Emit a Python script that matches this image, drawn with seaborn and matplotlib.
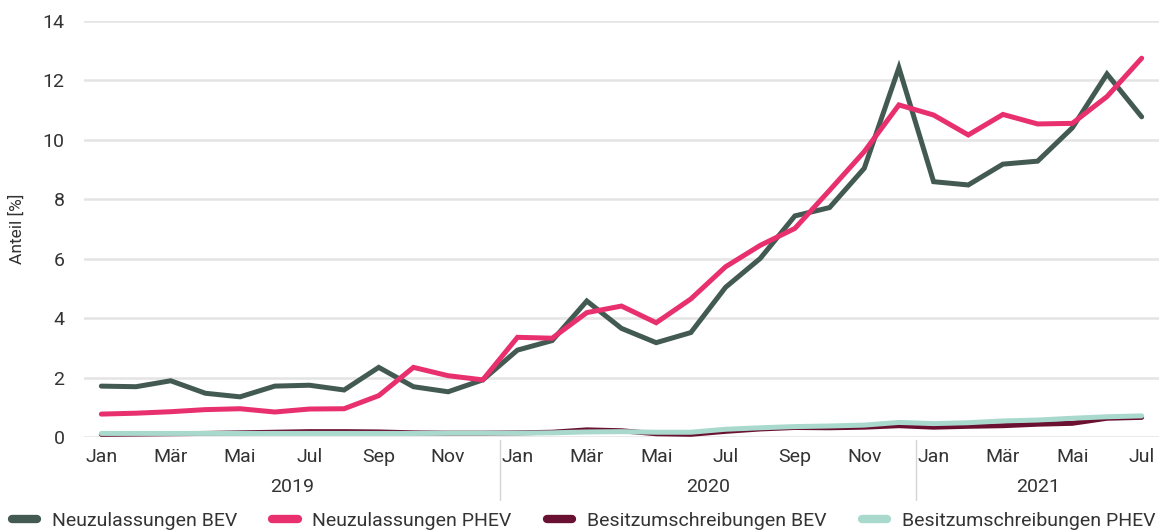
import numpy as np
import pandas as pd
import matplotlib
matplotlib.use("Agg")
import matplotlib.pyplot as plt
import matplotlib.transforms as mtransforms
from matplotlib.lines import Line2D
import seaborn as sns

# ---------------- data ----------------
month_names = ["Jan", "Feb", "Mär", "Apr", "Mai", "Jun", "Jul", "Aug", "Sep", "Okt", "Nov", "Dez"]
years = ["2019", "2020", "2021"]
n_months = 31  # Jan 2019 .. Jul 2021

neu_bev = [1.72, 1.70, 1.90, 1.48, 1.36, 1.72, 1.75, 1.59, 2.35, 1.70, 1.53, 1.93,
           2.93, 3.25, 4.58, 3.66, 3.18, 3.52, 5.04, 6.01, 7.44, 7.72, 9.04, 12.42,
           8.59, 8.48, 9.18, 9.28, 10.40, 12.21, 10.77]
neu_phev = [0.78, 0.81, 0.86, 0.93, 0.96, 0.85, 0.95, 0.96, 1.40, 2.35, 2.07, 1.93,
            3.36, 3.33, 4.19, 4.41, 3.85, 4.65, 5.73, 6.45, 7.02, 8.30, 9.60, 11.17,
            10.83, 10.16, 10.85, 10.53, 10.55, 11.45, 12.74]
bes_bev = [0.10, 0.11, 0.12, 0.13, 0.15, 0.17, 0.19, 0.19, 0.18, 0.15, 0.14, 0.14,
           0.15, 0.17, 0.25, 0.22, 0.12, 0.10, 0.20, 0.28, 0.33, 0.32, 0.34, 0.39,
           0.34, 0.37, 0.39, 0.44, 0.47, 0.64, 0.67]
bes_phev = [0.13, 0.13, 0.13, 0.13, 0.13, 0.13, 0.13, 0.13, 0.13, 0.13, 0.14, 0.14,
            0.14, 0.15, 0.18, 0.19, 0.17, 0.17, 0.27, 0.32, 0.36, 0.38, 0.41, 0.50,
            0.46, 0.49, 0.55, 0.58, 0.64, 0.69, 0.72]

series_names = ["Neuzulassungen BEV", "Neuzulassungen PHEV",
                "Besitzumschreibungen BEV", "Besitzumschreibungen PHEV"]
series_values = [neu_bev, neu_phev, bes_bev, bes_phev]
colors = ["#435a52", "#e8306f", "#6a1030", "#a9d9cd"]

y_ticks = [0, 2, 4, 6, 8, 10, 12, 14]
y_label = "Anteil [%]"

# ---------------- frame ----------------
rows = []
for name, vals in zip(series_names, series_values):
    for i, v in enumerate(vals):
        rows.append({"idx": i, "Anteil": v, "Serie": name})
df = pd.DataFrame(rows)

sns.set_theme(style="white")
plt.rcParams["font.family"] = ["Roboto", "DejaVu Sans"]
text_color = "#333333"

W, H = 1163, 530
fig = plt.figure(figsize=(W / 100, H / 100), dpi=100)
left, right, top, bottom = 84, 1159, 20.7, 437.3
ax = fig.add_axes([left / W, 1 - bottom / H, (right - left) / W, (bottom - top) / H])

sns.lineplot(data=df, x="idx", y="Anteil", hue="Serie", hue_order=series_names,
             palette=dict(zip(series_names, colors)), linewidth=3.6,
             legend=False, ax=ax, sort=False)
for ln in ax.get_lines():
    ln.set_solid_capstyle("round")
    ln.set_solid_joinstyle("miter")

ax.set_xlim(-0.5, n_months - 0.5)
ax.set_ylim(0, 14)
ax.set_yticks(y_ticks)
ax.set_yticklabels([str(t) for t in y_ticks])
ax.yaxis.grid(True, color="#e4e4e4", linewidth=1.8)
ax.xaxis.grid(False)
ax.set_axisbelow(True)
for s in ax.spines.values():
    s.set_visible(False)

xt = list(range(0, n_months, 2))
ax.set_xticks(xt)
ax.set_xticklabels([month_names[i % 12] for i in xt])
ax.tick_params(axis="x", length=0, pad=8, labelsize=14, labelcolor=text_color)
ax.tick_params(axis="y", length=0, pad=14, labelsize=14, labelcolor=text_color)
ax.set_xlabel("")
ax.set_ylabel(y_label, fontsize=12.5, color=text_color, labelpad=13)

# year labels and separators
trans = mtransforms.blended_transform_factory(ax.transData, ax.transAxes)
year_centers = [5.5, 17.5, 27]
for yr, xc in zip(years, year_centers):
    ax.text(xc, -0.12, yr, transform=trans, ha="center", va="center",
            fontsize=14, color=text_color)
for xs in [11.5, 23.5]:
    ax.plot([xs, xs], [-0.006, -0.15], transform=trans, color="#d4d4d4",
            linewidth=1.0, clip_on=False)

# legend
handles = [Line2D([0], [0], color=c, linewidth=6, solid_capstyle="round")
           for c in colors]
fig.legend(handles, series_names, loc="lower left", ncol=4, mode="expand",
           bbox_to_anchor=(12 / W, 0.0, (1155 - 12) / W, 0.04),
           frameon=False, fontsize=14, handlelength=1.3, handletextpad=0.75,
           borderpad=0, borderaxespad=0, labelcolor=text_color)

fig.savefig("out.png", dpi=100)
